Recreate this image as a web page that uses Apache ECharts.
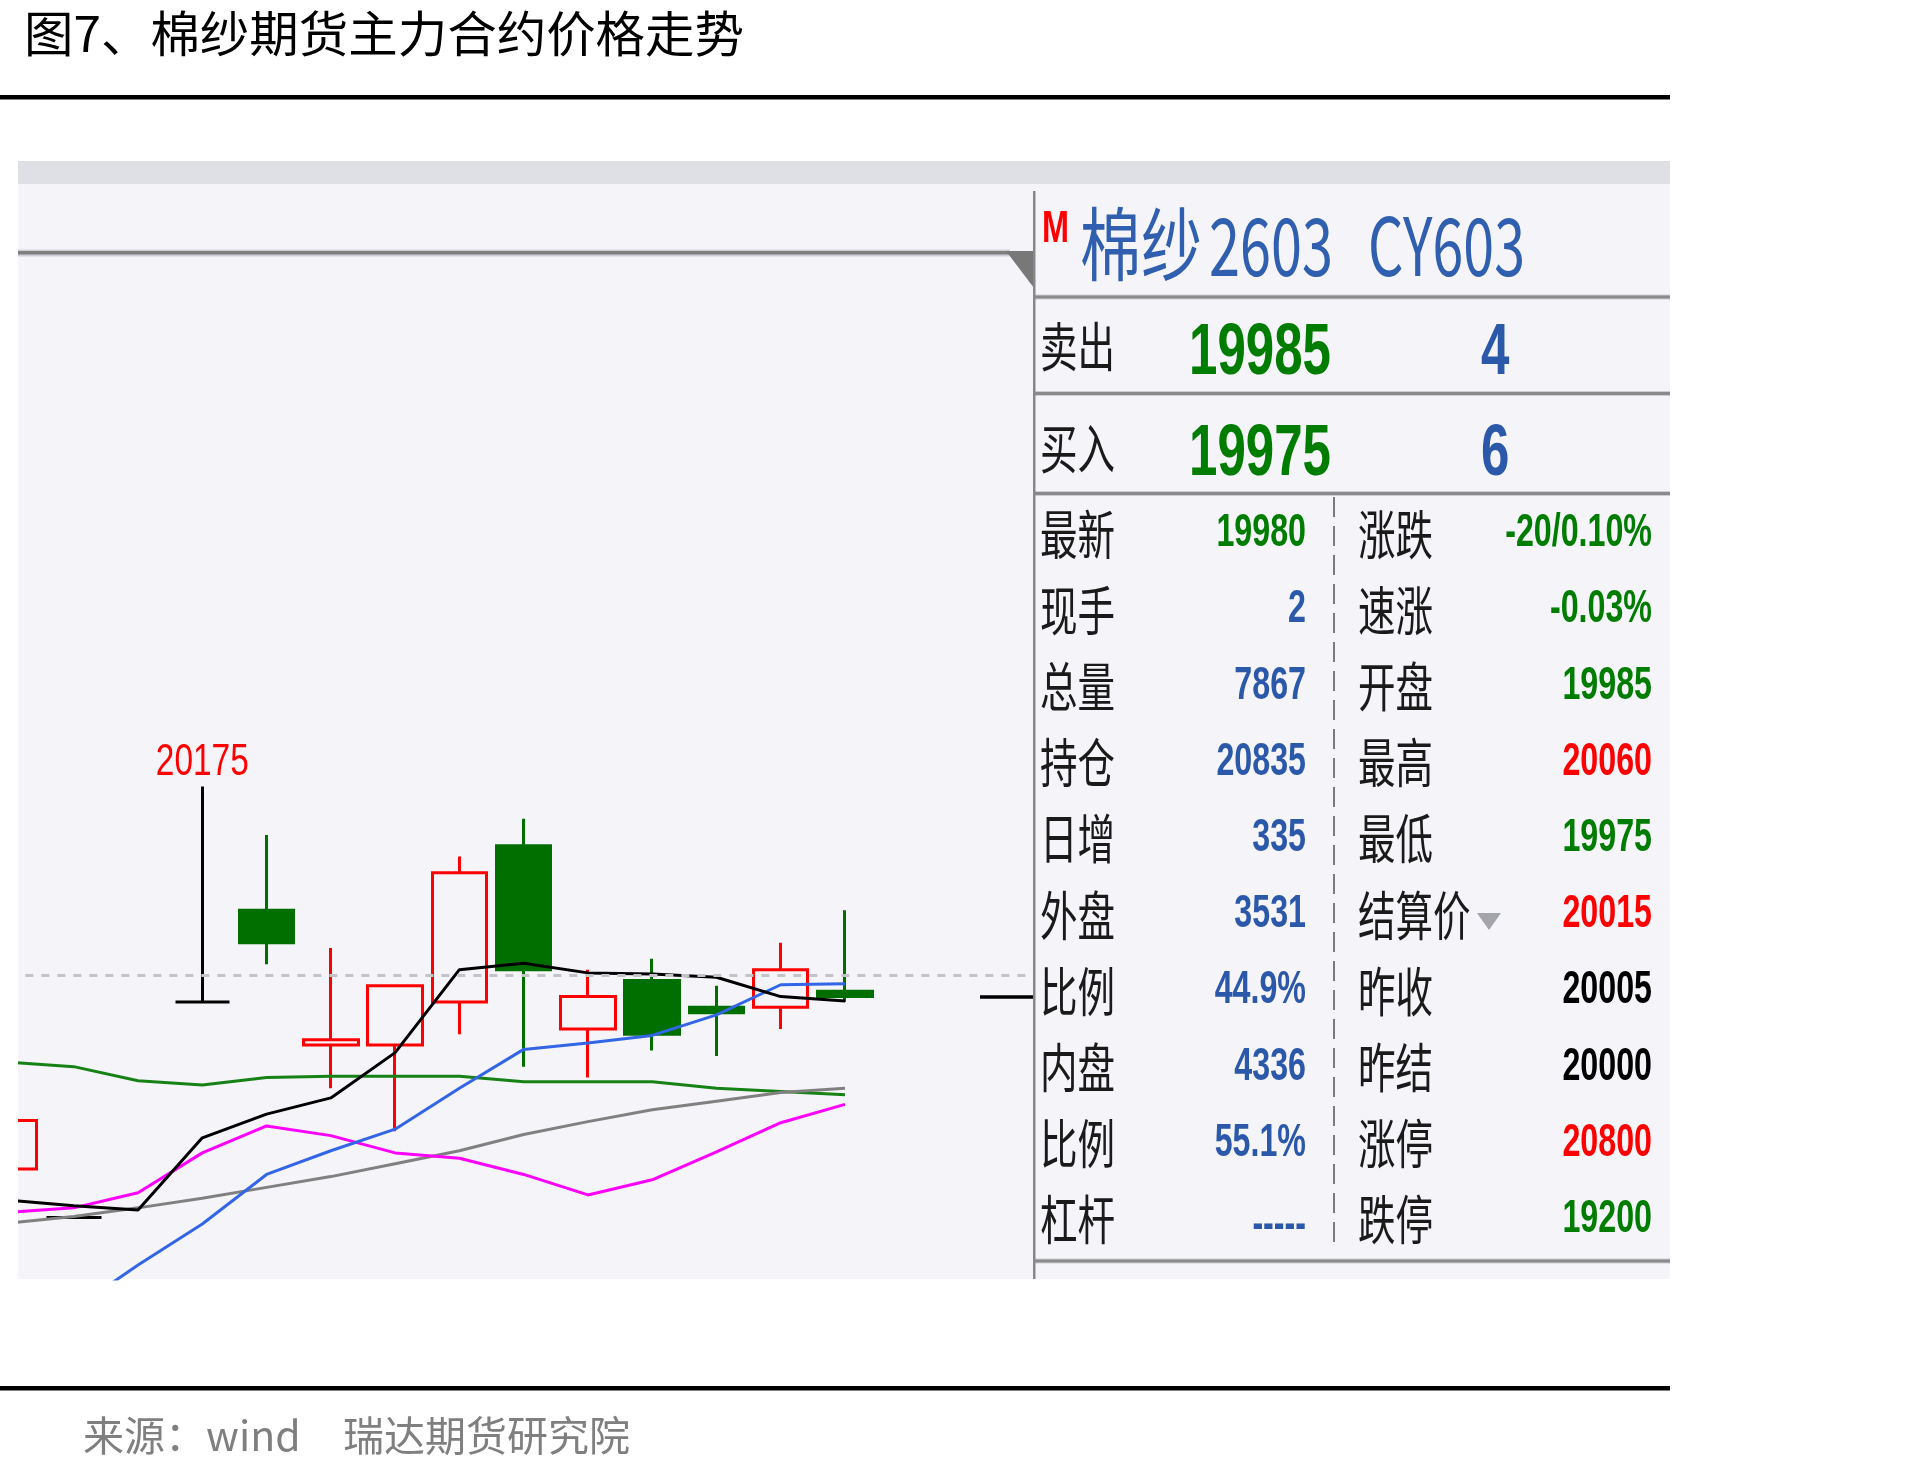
<!DOCTYPE html>
<html><head><meta charset="utf-8">
<script src="https://cdn.jsdelivr.net/npm/echarts@6/dist/echarts.min.js"></script>
<style>html,body{margin:0;padding:0;background:#fff;}#c{width:1925px;height:1469px;}</style>
</head><body><div id="c"></div>
<script>
// ---------------- data ----------------
const categories = ['1','2','3','4','5','6','7','8','9','10','11','12','13','14','15','16','17'];
// daily candles
const opens  = [19820,19775,19705,19975,20060,19935,19935,19975,20120,19950,19995,19970,19970,19985];
const closes = [19865,19775,19705,19975,20030,19940,19990,20095,20005,19980,19945,19965,20005,19980];
const lows   = [19820,19775,19705,19975,20010,19895,19855,19945,19915,19905,19930,19925,19950,19975];
const highs  = [19865,19775,19705,20175,20130,20025,19990,20110,20145,20005,20015,19990,20030,20060];
// moving-average lines
const maBlack   = [19791,19786,19782,19849,19871,19886,19928,20005,20011,20002,20001,19998,19980,19976];
const maBlue    = [19660,19690,19731,19769,19815,19837,19857,19895,19931,19937,19944,19963,19991,19992];
const maMagenta = [19780,19784,19798,19835,19860,19851,19835,19830,19815,19796,19810,19836,19863,19880];
const maGray    = [19770,19776,19784,19793,19803,19813,19825,19837,19852,19864,19875,19883,19891,19895];
const maGreen   = [19919,19915,19902,19898,19905,19906,19906,19906,19901,19901,19901,19895,19892,19889];
const refPrice = 20000;   // dashed reference line
const lastPrice = 19980;  // latest price marker
// quote panel
const headerName = '棉纱', headerNum = '2603', headerCode = 'CY603';
const askLabel = '卖出', askPrice = '19985', askVol = '4';
const bidLabel = '买入', bidPrice = '19975', bidVol = '6';
const leftLabels  = ['最新','现手','总量','持仓','日增','外盘','比例','内盘','比例','杠杆'];
const leftValues  = ['19980','2','7867','20835','335','3531','44.9%','4336','55.1%','-----'];
const leftColors  = ['g','b','b','b','b','b','b','b','b','b'];
const rightLabels = ['涨跌','速涨','开盘','最高','最低','结算价','昨收','昨结','涨停','跌停'];
const rightValues = ['-20/0.10%','-0.03%','19985','20060','19975','20015','20005','20000','20800','19200'];
const rightColors = ['g','g','g','r','g','r','k','k','r','g'];
const titleText = '图7、棉纱期货主力合约价格走势';
const sourceA = '来源：wind', sourceB = '瑞达期货研究院';

// ---------------- chart ----------------
const Y_MIN = 19718, Y_MAX = 20668;
const BAND = 64.27;
const chart = echarts.init(document.getElementById('c'), null, {renderer:'canvas', width:1925, height:1469});
const C = {g:'#007d00', b:'#2b58a8', r:'#ff0000', k:'#000000'};
function maSeries(data, color){
  return {type:'line', xAxisIndex:0, yAxisIndex:0, data:data, symbol:'none', showSymbol:false,
    smooth:false, clip:true, z:3, silent:true, lineStyle:{color:color, width:3}};
}
const option = {
  backgroundColor:'#ffffff',
  animation:false,
  grid:[
    {left:9.5 - BAND/2, top:255, width:BAND*categories.length, height:1024, outerBoundsMode:'none', containLabel:false},
    {left:980, top:255, width:53, height:1024, outerBoundsMode:'none', containLabel:false}
  ],
  xAxis:[
    {type:'category', gridIndex:0, data:categories, boundaryGap:true, show:false},
    {type:'value', gridIndex:1, min:0, max:1, show:false}
  ],
  yAxis:[
    {type:'value', gridIndex:0, min:Y_MIN, max:Y_MAX, show:false},
    {type:'value', gridIndex:1, min:Y_MIN, max:Y_MAX, show:false}
  ],
  series:[
    {type:'candlestick', xAxisIndex:0, yAxisIndex:0, z:2, clip:true, silent:true,
     barWidth:55,
     data: opens.map((o,i)=>[o, closes[i], lows[i], highs[i]]),
     itemStyle:{color:'rgba(0,0,0,0)', color0:'#006f00', borderColor:'#ff0000', borderColor0:'#006f00',
       borderColorDoji:'#000000', borderWidth:3},
     markLine:{silent:true, symbol:'none', label:{show:false}, animation:false,
       lineStyle:{color:'#c4c4c8', type:[8,8], width:3},
       data:[{yAxis:refPrice}]}
    },
    maSeries(maGreen,'#168216'),
    maSeries(maGray,'#808080'),
    maSeries(maMagenta,'#ff00ff'),
    maSeries(maBlue,'#3366e6'),
    maSeries(maBlack,'#000000'),
    {type:'line', xAxisIndex:1, yAxisIndex:1, data:[], z:4, silent:true,
     markLine:{silent:true, symbol:'none', label:{show:false}, animation:false,
       lineStyle:{color:'#000000', type:'solid', width:3.5}, data:[{yAxis:lastPrice}]}}
  ]
};
chart.setOption(option);

// ---------------- graphics ----------------
const mctx = document.createElement('canvas').getContext('2d');
function fitS(text, font, w){ mctx.font = font; return w / mctx.measureText(text).width; }
function T(text, x, y, font, fill, align, s, z){
  return {type:'text', x:x, y:y, scaleX:s||1, scaleY:1, z:z||20, silent:true,
    style:{text:text, font:font, fill:fill, textAlign:align||'left', textVerticalAlign:'middle'}};
}
function R(x,y,w,h,fill,z){ return {type:'rect', z:z, silent:true, shape:{x:x,y:y,width:w,height:h}, style:{fill:fill}}; }

const els = [];
const CJK = '"Noto Sans CJK SC"';
const LAT = '"Liberation Sans"';
// title & rules
const fTitle = '49px ' + CJK;
els.push(T(titleText, 24, 33, fTitle, '#000000', 'left', fitS(titleText, fTitle, 720), 20));
els.push(R(0, 95, 1670, 4.5, '#000000', 20));
els.push(R(0, 1386, 1670, 4.5, '#000000', 20));
const fSrc = '41px ' + CJK;
els.push(T(sourceA, 83, 1435, fSrc, '#7f7f7f', 'left', 1, 20));
els.push(T(sourceB, 343, 1435, fSrc, '#7f7f7f', 'left', 1, 20));
// panel backgrounds
els.push(R(18, 161, 1652, 23, '#dfe0e5', 0));
els.push(R(18, 184, 1017, 1095, '#f4f4f9', 0));
els.push(R(0, 150, 18, 1140, '#ffffff', 10));
els.push(R(1035, 184, 635, 1095, '#f4f4f9', 10));
// left header line + triangle
els.push(R(18, 249.5, 992, 7, '#cfcfd6', 1));
els.push(R(18, 251, 992, 3.5, '#7f7f7f', 1));
els.push({type:'polygon', z:11, silent:true, shape:{points:[[1006,251],[1034,251],[1034,288]]}, style:{fill:'#787878'}});
// divider and separators
els.push(R(1033, 191, 2.5, 1088, '#878787', 12));
[295.5, 392, 492, 1259.5].forEach(y=>{
  els.push(R(1034, y-1, 636, 5, '#cdcdd3', 11));
  els.push(R(1034, y, 636, 3, '#8a8a8a', 12));
});
els.push({type:'line', z:12, silent:true, shape:{x1:1334, y1:497, x2:1334, y2:1250},
  style:{stroke:'#7a7a7a', lineWidth:2, lineDash:[20,9]}});
// header
const fM = 'bold 44px ' + LAT;
els.push(T('M', 1042, 230, fM, '#ff0000', 'left', fitS('M', fM, 27), 20));
const fH = '80px ' + CJK;
els.push(T(headerName, 1080, 244, fH, '#2f5fae', 'left', fitS(headerName, fH, 122), 20));
els.push(T(headerNum, 1209, 246, fH, '#2f5fae', 'left', fitS(headerNum, fH, 124), 20));
els.push(T(headerCode, 1368, 246, fH, '#2f5fae', 'left', fitS(headerCode, fH, 157), 20));
// bid/ask rows
const fLab = '53px ' + CJK;
const sLab = fitS('最新', fLab, 75);
const fBig = 'bold 72px ' + LAT;
const sBig = fitS(askPrice, fBig, 142);
els.push(T(askLabel, 1040, 347, fLab, '#1a1a1a', 'left', sLab, 20));
els.push(T(askPrice, 1189, 354, fBig, C.g, 'left', sBig, 20));
els.push(T(askVol, 1481, 354, fBig, C.b, 'left', sBig, 20));
els.push(T(bidLabel, 1040, 449, fLab, '#1a1a1a', 'left', sLab, 20));
els.push(T(bidPrice, 1189, 455, fBig, C.g, 'left', sBig, 20));
els.push(T(bidVol, 1481, 455, fBig, C.b, 'left', sBig, 20));
// detail rows
const fVal = 'bold 46px ' + LAT;
const sVal = 0.70;
for (let i = 0; i < leftLabels.length; i++) {
  const y = 533.5 + 76.2 * i;
  els.push(T(leftLabels[i], 1040, y + 1, fLab, '#1a1a1a', 'left', sLab, 20));
  els.push(T(leftValues[i], 1306, leftValues[i] === '-----' ? y + 6 : y, fVal, C[leftColors[i]], 'right', sVal, 20));
  els.push(T(rightLabels[i], 1358, y + 1, fLab, '#1a1a1a', 'left', sLab, 20));
  els.push(T(rightValues[i], 1652, y, fVal, C[rightColors[i]], 'right', sVal, 20));
}
els.push({type:'polygon', z:20, silent:true, shape:{points:[[1477,913],[1501,913],[1489,930]]}, style:{fill:'#a4a4ab'}});
// highest-price label via the chart's own scale
let maxIdx = 0;
highs.forEach((h,i)=>{ if (h > highs[maxIdx]) maxIdx = i; });
const p = chart.convertToPixel({seriesIndex:0}, [maxIdx, highs[maxIdx]]);
const fMax = '44px ' + LAT;
els.push(T(String(highs[maxIdx]), p[0], p[1] - 24, fMax, '#ff0000', 'center', fitS(String(highs[maxIdx]), fMax, 93), 20));

chart.setOption({graphic:{elements:els}});
</script></body></html>
